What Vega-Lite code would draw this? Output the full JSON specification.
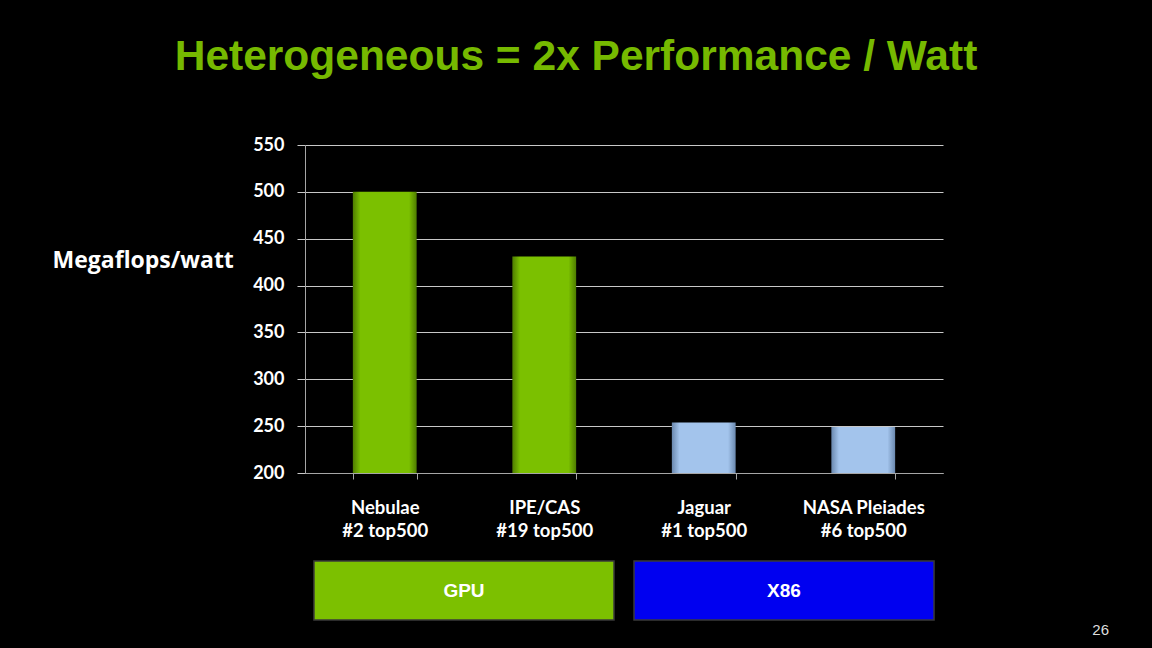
{
  "$schema": "https://vega.github.io/schema/vega-lite/v6.json",
  "background": "black",
  "padding": {"left": 52, "top": 35, "right": 50, "bottom": 30},
  "config": {"view": {"stroke": null}, "font": "Lato"},
  "spacing": 20,
  "vconcat": [
    {
      "width": 638,
      "height": 328,
      "title": {
        "text": "Heterogeneous = 2x Performance / Watt",
        "font": "Liberation Sans",
        "fontWeight": "bold",
        "fontSize": 42.5,
        "color": "#76B900",
        "anchor": "middle",
        "dx": -48,
        "offset": 58
      },
      "data": {
        "values": [
          {"system": "Nebulae|#2 top500", "group": "GPU", "value": 500},
          {"system": "IPE/CAS|#19 top500", "group": "GPU", "value": 431},
          {"system": "Jaguar|#1 top500", "group": "X86", "value": 254},
          {"system": "NASA Pleiades|#6 top500", "group": "X86", "value": 249}
        ]
      },
      "encoding": {
        "x": {
          "field": "system",
          "type": "nominal",
          "sort": null,
          "scale": {"paddingInner": 0.6, "paddingOuter": 0.3},
          "axis": {
            "title": null,
            "labelAngle": 0,
            "labelExpr": "split(datum.label, '|')",
            "labelColor": "white",
            "labelFont": "Lato",
            "labelFontWeight": "bold",
            "labelFontSize": 18.5,
            "labelLineHeight": 23,
            "labelPadding": 19,
            "labelBaseline": "top",
            "tickBand": "extent",
            "tickSize": 6,
            "tickColor": "#A6A6A6",
            "domainColor": "#A6A6A6",
            "grid": false
          }
        },
        "y": {
          "field": "value",
          "type": "quantitative",
          "scale": {"domain": [200, 550], "zero": false, "nice": false},
          "axis": {
            "values": [200, 250, 300, 350, 400, 450, 500, 550],
            "grid": true,
            "gridColor": "#C8C8C8",
            "gridWidth": 1,
            "tickSize": 8,
            "tickColor": "#C8C8C8",
            "domainColor": "#A6A6A6",
            "labelColor": "white",
            "labelFont": "Lato",
            "labelFontWeight": "bold",
            "labelFontSize": 18,
            "labelPadding": 13,
            "title": "Megaflops/watt",
            "titleAngle": 0,
            "titleAlign": "left",
            "titleBaseline": "middle",
            "titleX": -253,
            "titleY": 115,
            "titleColor": "white",
            "titleFont": "Open Sans",
            "titleFontWeight": "bold",
            "titleFontSize": 23
          }
        },
        "y2": {"datum": 200}
      },
      "layer": [
        {
          "transform": [{"filter": "datum.group === 'GPU'"}],
          "mark": {
            "type": "bar",
            "color": {
              "gradient": "linear", "x1": 0, "x2": 1, "y1": 0, "y2": 0,
              "stops": [
                {"offset": 0, "color": "#4E7D00"},
                {"offset": 0.12, "color": "#7BC000"},
                {"offset": 0.88, "color": "#7BC000"},
                {"offset": 1, "color": "#4E7D00"}
              ]
            }
          }
        },
        {
          "transform": [{"filter": "datum.group === 'X86'"}],
          "mark": {
            "type": "bar",
            "color": {
              "gradient": "linear", "x1": 0, "x2": 1, "y1": 0, "y2": 0,
              "stops": [
                {"offset": 0, "color": "#6A88AE"},
                {"offset": 0.12, "color": "#A3C4EC"},
                {"offset": 0.88, "color": "#A3C4EC"},
                {"offset": 1, "color": "#6A88AE"}
              ]
            }
          }
        }
      ]
    },
    {
      "width": 638,
      "height": 59,
      "title": {
        "text": "26",
        "orient": "bottom",
        "anchor": "end",
        "frame": "group",
        "dx": 166,
        "offset": 2,
        "font": "Liberation Sans",
        "fontWeight": "normal",
        "fontSize": 15,
        "color": "#DDDDDD"
      },
      "data": {
        "values": [
          {"group": "GPU"},
          {"group": "X86"}
        ]
      },
      "encoding": {
        "x": {
          "field": "group",
          "type": "nominal",
          "sort": null,
          "scale": {"paddingInner": 0.0625, "paddingOuter": 0.028},
          "axis": null
        }
      },
      "layer": [
        {
          "mark": {"type": "bar", "stroke": "#3A3A3A", "strokeWidth": 1.5},
          "encoding": {
            "color": {
              "field": "group",
              "type": "nominal",
              "scale": {"domain": ["GPU", "X86"], "range": ["#7CC000", "#0000F0"]},
              "legend": null
            }
          }
        },
        {
          "mark": {
            "type": "text",
            "color": "white",
            "font": "Liberation Sans",
            "fontWeight": "bold",
            "fontSize": 19,
            "baseline": "middle"
          },
          "encoding": {
            "text": {"field": "group", "type": "nominal"}
          }
        }
      ]
    }
  ]
}
